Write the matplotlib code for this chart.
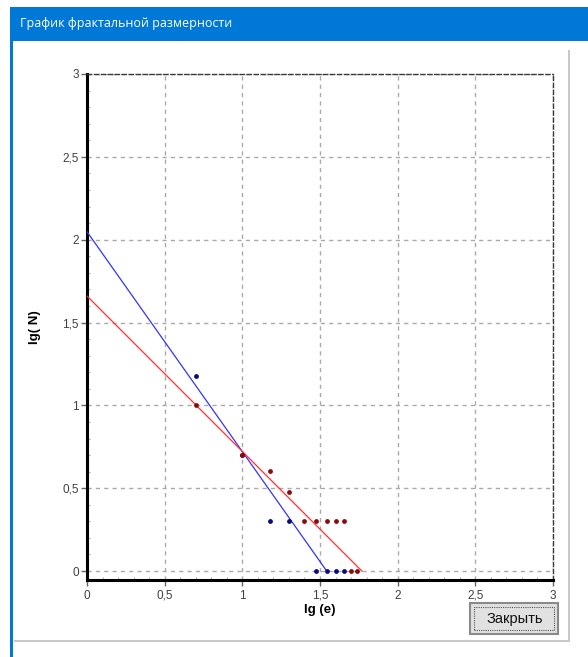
import numpy as np
import matplotlib
matplotlib.use("Agg")
import matplotlib.pyplot as plt
from matplotlib.patches import Rectangle
from matplotlib.ticker import MultipleLocator, FuncFormatter

# Box-counting data: lg(e) vs lg(N) for two images
blue_x = [0.699, 1.000, 1.176, 1.301, 1.477, 1.544, 1.602, 1.653]
blue_y = [1.176, 0.699, 0.301, 0.301, 0.000, 0.000, 0.000, 0.000]
red_x = [0.699, 1.000, 1.176, 1.301, 1.398, 1.477, 1.544, 1.602, 1.653, 1.699, 1.740]
red_y = [1.000, 0.699, 0.602, 0.477, 0.301, 0.301, 0.301, 0.301, 0.301, 0.000, 0.000]

# Fitted lines: intercept and slope
blue_fit = (2.048, -1.327)
red_fit = (1.660, -0.938)

ticks = [0, 0.5, 1, 1.5, 2, 2.5, 3]

W, H = 588, 657
fig = plt.figure(figsize=(W / 100, H / 100), dpi=100)
fig.patch.set_facecolor("white")


def fx(px):
    return px / W


def fy(py):
    return 1 - py / H


# Window chrome
fig.patches.append(Rectangle((fx(10), fy(41)), fx(578), 34 / H, transform=fig.transFigure,
                             facecolor="#0078d7", edgecolor="none", zorder=0))
fig.patches.append(Rectangle((fx(10), 0), 2.5 / W, fy(7), transform=fig.transFigure,
                             facecolor="#0078d7", edgecolor="none", zorder=0))
fig.text(fx(20), fy(24), "График фрактальной размерности", color="white",
         fontsize=9, family="Open Sans", va="center", ha="left")
# Panel edges
fig.patches.append(Rectangle((fx(568), fy(642)), 2 / W, (642 - 50) / H, transform=fig.transFigure,
                             facecolor="#c8c8c8", edgecolor="none", zorder=0))
fig.patches.append(Rectangle((fx(14), fy(642)), (570 - 14) / W, 2 / H, transform=fig.transFigure,
                             facecolor="#c8c8c8", edgecolor="none", zorder=0))

# Close button
fig.patches.append(Rectangle((fx(470), fy(634)), 88 / W, 31 / H, transform=fig.transFigure,
                             facecolor="#e1e1e1", edgecolor="#8a8a8a", linewidth=1.5, zorder=1))
fig.patches.append(Rectangle((fx(474), fy(630)), 80 / W, 23 / H, transform=fig.transFigure,
                             facecolor="none", edgecolor="#555555", linewidth=0.8,
                             linestyle=(0, (1, 1)), zorder=2))
fig.text(fx(515), fy(619), "Закрыть", color="#111111", fontsize=10.5,
         family="Liberation Sans", ha="center", va="center", zorder=3)

# Chart axes
ax = fig.add_axes([fx(87), fy(580), (553 - 87) / W, (580 - 74) / H])
ax.set_xlim(0, 3)
ax.set_ylim(-0.054, 3)

ax.set_xticks(ticks)
ax.set_yticks(ticks)
fmt = FuncFormatter(lambda v, p: ("%g" % v).replace(".", ","))
ax.xaxis.set_major_formatter(fmt)
ax.yaxis.set_major_formatter(fmt)
ax.xaxis.set_minor_locator(MultipleLocator(0.1))
ax.yaxis.set_minor_locator(MultipleLocator(0.1))

ax.grid(True, which="major", color="#aaaaaa", linestyle=(0, (3, 3)), linewidth=1)
ax.set_axisbelow(True)

for side in ("left", "bottom"):
    ax.spines[side].set_linewidth(2.2)
    ax.spines[side].set_color("black")
for side in ("top", "right"):
    ax.spines[side].set_linewidth(1.0)
    ax.spines[side].set_color("#3a3a3a")
    ax.spines[side].set_linestyle((0, (3, 2)))

ax.tick_params(which="major", direction="out", length=4, width=1, color="#666666",
               labelsize=8.5, labelcolor="#404040")
ax.tick_params(which="minor", direction="in", length=2.5, width=0.8, color="#b0b0b0")
ax.tick_params(axis="x", which="major", pad=3)
ax.tick_params(axis="y", which="major", pad=2)
for lab in ax.get_xticklabels() + ax.get_yticklabels():
    lab.set_family("Liberation Sans")

# Regression lines, drawn from x=0 to the x-intercept
for (b, k), col in ((blue_fit, "#3333ff"), (red_fit, "#ff3030")):
    x_end = -b / k
    xs = np.array([0, x_end])
    ax.plot(xs, b + k * xs, color=col, linewidth=0.9, zorder=3)

ax.scatter(blue_x, blue_y, s=12, color="#0a0a7a", zorder=4, linewidths=0)
ax.scatter(red_x, red_y, s=12, color="#8b0a0a", zorder=5, linewidths=0)

ax.set_xlabel("lg (e)", fontsize=9.5, fontweight="bold", family="Liberation Sans", labelpad=2)
ax.set_ylabel("lg( N)", fontsize=9.5, fontweight="bold", family="Liberation Sans", labelpad=15)

fig.savefig("out.png", dpi=100)
